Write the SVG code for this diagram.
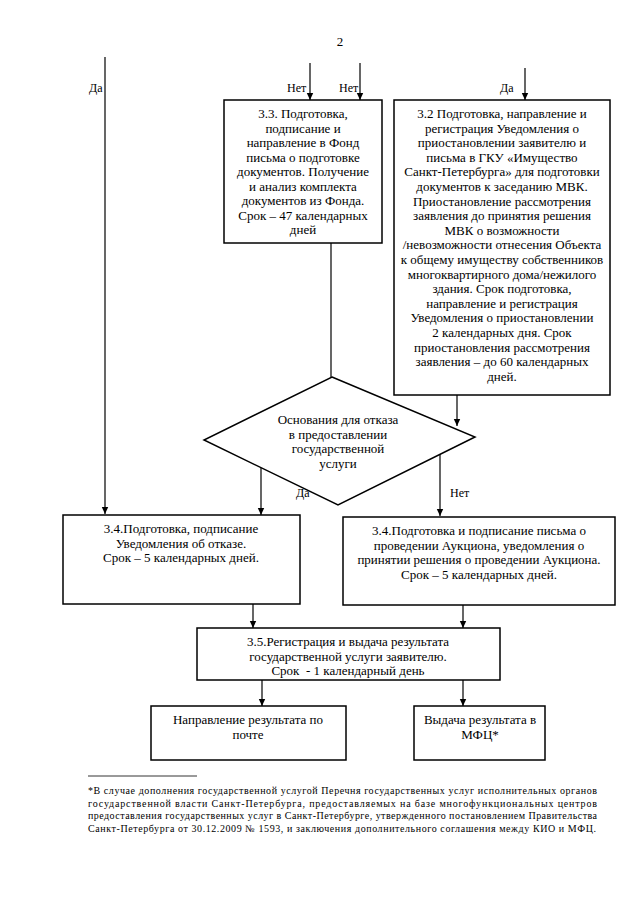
<svg xmlns="http://www.w3.org/2000/svg" width="640" height="905" viewBox="0 0 640 905" font-family="'Liberation Serif', 'DejaVu Serif', serif">
<defs>
<marker id="ah" markerWidth="8" markerHeight="8" refX="7" refY="4" orient="auto" markerUnits="userSpaceOnUse">
<path d="M0,0.8 L7,4 L0,7.2 Z" fill="#000"/>
</marker>
<style>
text{font-family:'Liberation Serif','DejaVu Serif',serif}
.b{fill:#fff;stroke:#000;stroke-width:1.5}
.t{font-size:13px;fill:#000;text-anchor:middle}
.l{font-size:12px;fill:#000}
.f{font-size:10px;fill:#000}
.c{stroke:#000;stroke-width:1.2;fill:none}
.a{stroke:#000;stroke-width:1.2;fill:none;marker-end:url(#ah)}
</style>
</defs>
<rect width="640" height="905" fill="#fff"/>
<text class="t" x="340" y="46" font-size="14">2</text>
<g id="connectors">
<line class="a" x1="105" y1="57" x2="105" y2="514"/>
<line class="a" x1="310" y1="63" x2="310" y2="100"/>
<line class="a" x1="360" y1="63" x2="360" y2="100"/>
<line class="a" x1="525" y1="68" x2="525" y2="100"/>
<line class="c" x1="331" y1="243" x2="331" y2="377"/>
<line class="a" x1="457" y1="395" x2="457" y2="426"/>
<line class="a" x1="261" y1="466" x2="261" y2="515"/>
<line class="a" x1="440" y1="454" x2="440" y2="516"/>
<line class="a" x1="253" y1="604" x2="253" y2="628"/>
<line class="a" x1="463" y1="605" x2="463" y2="628"/>
<line class="a" x1="262" y1="680" x2="262" y2="706"/>
<line class="a" x1="463" y1="680" x2="463" y2="706"/>
<text class="l" x="89" y="92">Да</text>
<text class="l" x="287" y="92">Нет</text>
<text class="l" x="339" y="92">Нет</text>
<text class="l" x="500" y="92">Да</text>
<text class="l" x="296" y="497">Да</text>
<text class="l" x="450" y="497">Нет</text>
</g>
<g id="n33">
<rect class="b" x="224" y="100" width="158" height="143"/>
<text class="t" x="303" y="118">3.3. Подготовка,</text>
<text class="t" x="303" y="132.5">подписание и</text>
<text class="t" x="303" y="147">направление в Фонд</text>
<text class="t" x="303" y="161.5">письма о подготовке</text>
<text class="t" x="303" y="176">документов. Получение</text>
<text class="t" x="303" y="190.5">и анализ комплекта</text>
<text class="t" x="303" y="205">документов из Фонда.</text>
<text class="t" x="303" y="219.5">Срок – 47 календарных</text>
<text class="t" x="303" y="234">дней</text>
</g>
<g id="n32">
<rect class="b" x="394" y="100" width="216" height="295"/>
<text class="t" x="502" y="118">3.2 Подготовка, направление и</text>
<text class="t" x="502" y="132.6">регистрация Уведомления о</text>
<text class="t" x="502" y="147.2">приостановлении заявителю и</text>
<text class="t" x="502" y="161.8">письма в ГКУ «Имущество</text>
<text class="t" x="502" y="176.4">Санкт-Петербурга» для подготовки</text>
<text class="t" x="502" y="191">документов к заседанию МВК.</text>
<text class="t" x="502" y="205.6">Приостановление рассмотрения</text>
<text class="t" x="502" y="220.2">заявления до принятия решения</text>
<text class="t" x="502" y="234.8">МВК о возможности</text>
<text class="t" x="502" y="249.4">/невозможности отнесения Объекта</text>
<text class="t" x="502" y="264">к общему имуществу собственников</text>
<text class="t" x="502" y="278.6">многоквартирного дома/нежилого</text>
<text class="t" x="502" y="293.2">здания. Срок подготовка,</text>
<text class="t" x="502" y="307.8">направление и регистрация</text>
<text class="t" x="502" y="322.4">Уведомления о приостановлении</text>
<text class="t" x="502" y="337">2 календарных дня. Срок</text>
<text class="t" x="502" y="351.6">приостановления рассмотрения</text>
<text class="t" x="502" y="366.2">заявления – до 60 календарных</text>
<text class="t" x="502" y="380.8">дней.</text>
</g>
<g id="decision">
<polygon class="b" points="332,377 475,437 338,505 204,440"/>
<text class="t" x="338" y="424">Основания для отказа</text>
<text class="t" x="338" y="438.5">в предоставлении</text>
<text class="t" x="338" y="453">государственной</text>
<text class="t" x="338" y="467.5">услуги</text>
</g>
<g id="n34a">
<rect class="b" x="63" y="515" width="237" height="89"/>
<text class="t" x="181" y="533">3.4.Подготовка, подписание</text>
<text class="t" x="181" y="547.5">Уведомления об отказе.</text>
<text class="t" x="181" y="562">Срок – 5 календарных дней.</text>
</g>
<g id="n34b">
<rect class="b" x="343" y="517" width="272" height="88"/>
<text class="t" x="479" y="535">3.4.Подготовка и подписание письма о</text>
<text class="t" x="479" y="549.5">проведении Аукциона, уведомления о</text>
<text class="t" x="479" y="564">принятии решения о проведении Аукциона.</text>
<text class="t" x="479" y="578.5">Срок – 5 календарных дней.</text>
</g>
<g id="n35">
<rect class="b" x="197" y="628" width="303" height="52"/>
<text class="t" x="348" y="646">3.5.Регистрация и выдача результата</text>
<text class="t" x="348" y="660.5">государственной услуги заявителю.</text>
<text class="t" x="348" y="675" xml:space="preserve">Срок  - 1 календарный день</text>
</g>
<g id="post">
<rect class="b" x="151" y="706" width="195" height="54"/>
<text class="t" x="248" y="724">Направление результата по</text>
<text class="t" x="248" y="738.5">почте</text>
</g>
<g id="mfc">
<rect class="b" x="414" y="706" width="131" height="54"/>
<text class="t" x="480" y="724">Выдача результата в</text>
<text class="t" x="480" y="738.5">МФЦ*</text>
</g>
<g id="footnote">
<line x1="88" y1="776" x2="197" y2="776" stroke="#000" stroke-width="0.8"/>
<text class="f" x="88" y="794" textLength="509" lengthAdjust="spacing">*В случае дополнения государственной услугой Перечня государственных услуг исполнительных органов</text>
<text class="f" x="88" y="806.5" textLength="509" lengthAdjust="spacing">государственной власти Санкт-Петербурга, предоставляемых на базе многофункциональных центров</text>
<text class="f" x="88" y="819" textLength="509" lengthAdjust="spacing">предоставления государственных услуг в Санкт-Петербурге, утвержденного постановлением Правительства</text>
<text class="f" x="88" y="831.5" textLength="508" lengthAdjust="spacing">Санкт-Петербурга от 30.12.2009 № 1593, и заключения дополнительного соглашения между КИО и МФЦ.</text>
</g>
</svg>
